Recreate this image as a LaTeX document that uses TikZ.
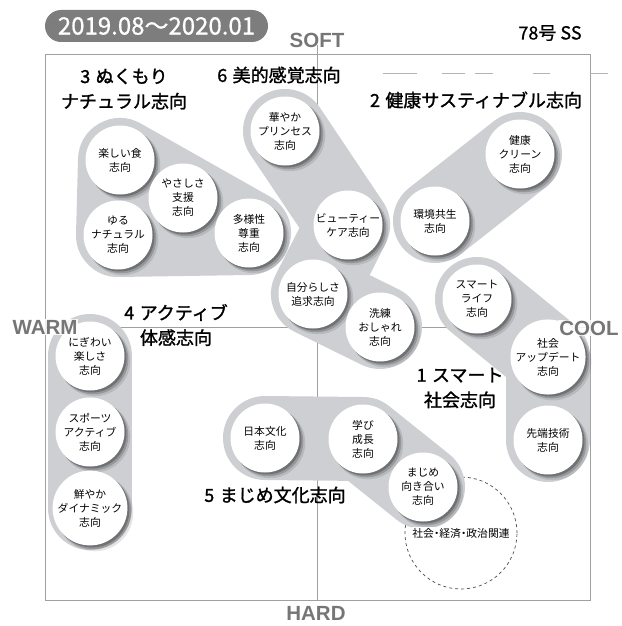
\documentclass[tikz,border=0pt]{standalone}
\usepackage{fontspec}
\setmainfont{Noto Sans CJK JP}
\newfontfamily\jpfont{Noto Sans CJK JP}
\newfontfamily\lblfont[FakeBold=1.4]{Noto Sans CJK JP}
\newfontfamily\hdfont[FakeBold=0.8]{Noto Sans CJK JP}
\newfontfamily\latinfont{Liberation Sans}
\usetikzlibrary{shadows}
\pgfdeclarelayer{bg}
\pgfsetlayers{bg,main}
\definecolor{blobgray}{RGB}{206,207,210}
\definecolor{framegray}{RGB}{160,160,160}
\definecolor{pillgray}{RGB}{125,125,125}
\definecolor{labgray}{RGB}{118,118,118}
\begin{document}
\begin{tikzpicture}[x=1pt,y=-1pt,
  bubble/.style={circle, fill=white, minimum size=69pt, inner sep=0pt, align=center,
    font=\jpfont\fontsize{10.8}{14}\selectfont,
    general shadow={shadow xshift=4.6pt, shadow yshift=-4.6pt, shadow scale=1.03, fill=black, opacity=0.10},
    general shadow={shadow xshift=3.4pt, shadow yshift=-3.4pt, shadow scale=1.01, fill=black, opacity=0.18},
    general shadow={shadow xshift=2pt, shadow yshift=-2pt, fill=black, opacity=0.25}},
  blob/.style={draw=blobgray, line width=84pt, line cap=round, line join=round},
  grp/.style={font=\lblfont\fontsize{18}{25}\selectfont, align=center, inner sep=0pt},
  axislbl/.style={font=\latinfont\bfseries\fontsize{20.5}{21}\selectfont, text=labgray, inner sep=1pt},
]
\useasboundingbox (0,0) rectangle (621,626);

% bubbles
\node[bubble] (tanoshii) at (120,160) {楽しい食\\志向};
\node[bubble] (yasashisa) at (183,198) {やさしさ\\支援\\志向};
\node[bubble] (yuru) at (118,235) {ゆる\\ナチュラル\\志向};
\node[bubble] (tayousei) at (249,233) {多様性\\尊重\\志向};
\node[bubble] (hanayaka) at (285,131) {華やか\\プリンセス\\志向};
\node[bubble] (beauty) at (348,225) {ビューティー\\ケア志向};
\node[bubble] (jibun) at (313,294) {自分らしさ\\追求志向};
\node[bubble] (senren) at (380,327) {洗練\\おしゃれ\\志向};
\node[bubble] (kankyo) at (435,221) {環境共生\\志向};
\node[bubble] (kenko) at (520,154) {健康\\クリーン\\志向};
\node[bubble] (smart) at (477,299) {スマート\\ライフ\\志向};
\node[bubble] (update) at (548,357) {社会\\アップデート\\志向};
\node[bubble] (sentan) at (548,440) {先端技術\\志向};
\node[bubble] (nigiwai) at (90,356) {にぎわい\\楽しさ\\志向};
\node[bubble] (sports) at (90,432) {スポーツ\\アクティブ\\志向};
\node[bubble] (azayaka) at (90,508) {鮮やか\\ダイナミック\\志向};
\node[bubble] (nihon) at (265,438) {日本文化\\志向};
\node[bubble] (manabi) at (363,439) {学び\\成長\\志向};
\node[bubble] (majime) at (423,487) {まじめ\\向き合い\\志向};

\begin{pgfonlayer}{bg}
  % frame and axes
  \draw[framegray, line width=0.9pt] (45,54) rectangle (590,600);
  \coordinate (vtop) at (317,45);
  \coordinate (vbot) at (317,600);
  \coordinate (hleft) at (45,327);
  \coordinate (hright) at (590,327);
  \draw[framegray, line width=0.8pt] (vtop) -- (vbot);
  \draw[framegray, line width=0.8pt] (hleft) -- (hright);
  \coordinate (dstart) at (383,73);
  \coordinate (dend) at (608,73);
  \draw[framegray!80, line width=0.8pt, dash pattern=on 34pt off 25pt on 23pt off 10pt on 18pt off 40pt on 17pt off 40pt on 18pt off 200pt] (dstart) -- (dend);
  % dashed zone
  \node[circle, draw=black!70, dashed, line width=0.7pt, minimum size=112pt, inner sep=0pt] (zone) at (461,533) {};
  % blobs
  \draw[blob, fill=blobgray] (tanoshii.center) -- (tayousei.center) -- (yuru.center) -- cycle;
  \draw[blob] (hanayaka.center) -- (beauty.center) -- (jibun.center) -- (senren.center);
  \draw[blob] (kankyo.center) -- (kenko.center);
  \draw[blob] (smart.center) -- (update.center) -- (sentan.center);
  \draw[blob] (nigiwai.center) -- (azayaka.center);
  \draw[blob] (nihon.center) -- (manabi.center) -- (majime.center);
\end{pgfonlayer}

\node[font=\jpfont\fontsize{10.8}{14}\selectfont, fill=white, inner sep=0.5pt] (zonetext) at (461,533) {社会\hspace{-0.25em}・\hspace{-0.25em}経済\hspace{-0.25em}・\hspace{-0.25em}政治関連};

% group labels
\node[grp] (g3) at (124,89) {3\hspace{0.3em}ぬくもり\\ナチュラル志向};
\node[grp] (g6) at (279,75) {6\hspace{0.3em}美的感覚志向};
\node[grp] (g2) at (476,100) {2\hspace{0.3em}健康サスティナブル志向};
\node[grp] (g4) at (176,325) {4\hspace{0.3em}アクティブ\\体感志向};
\node[grp] (g1) at (460,388) {1\hspace{0.3em}スマート\\社会志向};
\node[grp] (g5) at (275,495) {5\hspace{0.3em}まじめ文化志向};

% axis labels
\node[axislbl] (soft) at (317,40) {SOFT};
\node[axislbl] (hard) at (316,613) {HARD};
\node[axislbl, fill=white, fill opacity=0.85, text opacity=1] (warm) at (45,327) {WARM};
\node[axislbl, fill=white, fill opacity=0.85, text opacity=1] (cool) at (589,328) {COOL};

% header
\node[fill=pillgray, rounded corners=16pt, minimum width=223pt, minimum height=32pt, inner sep=0pt,
      text=white, font=\hdfont\fontsize{24}{24}\selectfont] (date) at (156.5,26) {2019.08～2020.01};
\node[font=\hdfont\fontsize{18}{18}\selectfont, inner sep=0pt] (issue) at (550,33) {78号 SS};
\end{tikzpicture}
\end{document}
